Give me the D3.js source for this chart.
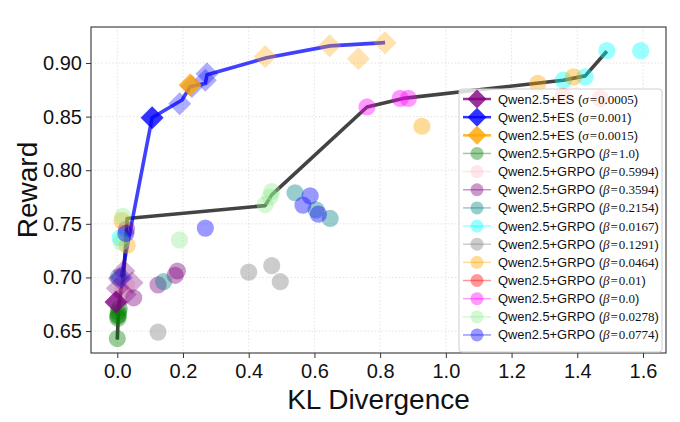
<!DOCTYPE html>
<html>
<head>
<meta charset="utf-8">
<script src="https://cdn.jsdelivr.net/npm/d3@7"></script>
<style>
body { margin: 0; background: #fff; }
svg text { font-family: "Liberation Sans", Arial, sans-serif; fill: #111; }
</style>
</head>
<body>
<div id="chart"></div>
<script>
// ---- data ----
// ES runs (diamonds). first point of each ES list is the highlighted (opaque) one
const es0005X = [-0.004, 0.000, 0.024, 0.045, 0.006, 0.020];
const es0005Y = [0.677, 0.690, 0.684, 0.695, 0.699, 0.706];
const es001X = [0.106, 0.012, 0.190, 0.227, 0.268, 0.273];
const es001Y = [0.849, 0.700, 0.862, 0.878, 0.884, 0.890];
const es0015X = [0.222, 0.450, 0.646, 0.734, 0.815];
const es0015Y = [0.8795, 0.906, 0.916, 0.904, 0.919];

// GRPO runs (circles), one pair per beta
const g10X = [0.000, 0.002, 0.004, 0.003, 0.006, 0.001];
const g10Y = [0.643, 0.662, 0.665, 0.668, 0.671, 0.664];
const g5994X = [0.015, 0.028];
const g5994Y = [0.687, 0.693];
const g3594X = [0.050, 0.124, 0.176, 0.183, 0.028];
const g3594Y = [0.681, 0.693, 0.702, 0.706, 0.745];
const g2154X = [0.003, 0.141, 0.541, 0.605, 0.648];
const g2154Y = [0.700, 0.696, 0.779, 0.763, 0.755];
const g0167X = [0.009, 1.358, 1.424, 1.490, 1.593];
const g0167Y = [0.737, 0.884, 0.887, 0.9115, 0.9115];
const g1291X = [0.124, 0.400, 0.470, 0.496];
const g1291Y = [0.649, 0.705, 0.711, 0.696];
const g0464X = [0.030, 0.014, 0.927, 1.280, 1.388];
const g0464Y = [0.730, 0.753, 0.841, 0.881, 0.887];
const g001X = [1.357, 1.470];
const g001Y = [0.869, 0.867];
const g00X = [0.760, 0.861, 0.886];
const g00Y = [0.859, 0.867, 0.867];
const g0278X = [0.012, 0.017, 0.189, 0.450, 0.465, 0.470];
const g0278Y = [0.733, 0.757, 0.735, 0.768, 0.775, 0.780];
const g0774X = [0.026, 0.268, 0.565, 0.587, 0.612];
const g0774Y = [0.741, 0.746, 0.7675, 0.776, 0.759];

// front lines
const esFrontX = [0.012, 0.106, 0.197, 0.222, 0.268, 0.273, 0.455, 0.648, 0.815];
const esFrontY = [0.700, 0.849, 0.8655, 0.878, 0.881, 0.889, 0.905, 0.916, 0.919];
const grpoFrontX = [0.000, 0.004, 0.020, 0.030, 0.450, 0.470, 0.760, 0.870, 1.357, 1.424, 1.490];
const grpoFrontY = [0.642, 0.672, 0.705, 0.755, 0.767, 0.777, 0.859, 0.867, 0.884, 0.888, 0.911];

const xTicks = [0.0, 0.2, 0.4, 0.6, 0.8, 1.0, 1.2, 1.4, 1.6];
const yTicks = [0.65, 0.70, 0.75, 0.80, 0.85, 0.90];

const esNames = ["0.0005", "0.001", "0.0015"];
const grpoNames = ["1.0", "0.5994", "0.3594", "0.2154", "0.0167", "0.1291", "0.0464", "0.01", "0.0", "0.0278", "0.0774"];

// ---- series table ----
const esSeries = [
    { name: esNames[0], xs: es0005X, ys: es0005Y, color: "#800080" },
    { name: esNames[1], xs: es001X, ys: es001Y, color: "#0000ff" },
    { name: esNames[2], xs: es0015X, ys: es0015Y, color: "#ffa500" }
];
const grpoColors = ["#008000", "#ffc0cb", "#800080", "#008080", "#00ffff", "#808080",
    "#ffa500", "#ff0000", "#ff00ff", "#90ee90", "#0000ff"];
const grpoData = [[g10X, g10Y], [g5994X, g5994Y], [g3594X, g3594Y], [g2154X, g2154Y],
    [g0167X, g0167Y], [g1291X, g1291Y], [g0464X, g0464Y], [g001X, g001Y],
    [g00X, g00Y], [g0278X, g0278Y], [g0774X, g0774Y]];
const grpoSeries = grpoNames.map((n, i) => ({ name: n, xs: grpoData[i][0], ys: grpoData[i][1], color: grpoColors[i] }));

const W = 680, H = 422;
const margin = { top: 27, right: 14, bottom: 69, left: 91 };

const svg = d3.select("#chart").append("svg")
    .attr("width", W).attr("height", H);

const x = d3.scaleLinear().domain([-0.08, 1.67]).range([margin.left, W - margin.right]);
const y = d3.scaleLinear().domain([0.6295, 0.9336]).range([H - margin.bottom, margin.top]);

// grid
svg.append("g").selectAll("line").data(xTicks).join("line")
    .attr("x1", d => x(d)).attr("x2", d => x(d))
    .attr("y1", margin.top).attr("y2", H - margin.bottom)
    .attr("stroke", "#dcdcdc").attr("stroke-width", 0.8).attr("stroke-dasharray", "1.5,2");
svg.append("g").selectAll("line").data(yTicks).join("line")
    .attr("x1", margin.left).attr("x2", W - margin.right)
    .attr("y1", d => y(d)).attr("y2", d => y(d))
    .attr("stroke", "#dcdcdc").attr("stroke-width", 0.8).attr("stroke-dasharray", "1.5,2");

// front lines (under the markers)
const line = d3.line().x(d => x(d[0])).y(d => y(d[1]));
svg.append("path")
    .datum(grpoFrontX.map((v, i) => [v, grpoFrontY[i]]))
    .attr("d", line).attr("fill", "none")
    .attr("stroke", "#222").attr("stroke-opacity", 0.85)
    .attr("stroke-width", 3.6).attr("stroke-linejoin", "round");
svg.append("path")
    .datum(esFrontX.map((v, i) => [v, esFrontY[i]]))
    .attr("d", line).attr("fill", "none")
    .attr("stroke", "#0000ff").attr("stroke-opacity", 0.75)
    .attr("stroke-width", 3.6).attr("stroke-linejoin", "round");

// GRPO circles
grpoSeries.forEach(s => {
    svg.append("g").selectAll("circle").data(s.xs.map((v, i) => [v, s.ys[i]])).join("circle")
        .attr("cx", d => x(d[0])).attr("cy", d => y(d[1]))
        .attr("r", 8.6)
        .attr("fill", s.color).attr("fill-opacity", 0.4);
});

// ES diamonds
const diamond = h => `M0,${-h}L${h},0L0,${h}L${-h},0Z`;
esSeries.forEach(s => {
    svg.append("g").selectAll("path").data(s.xs.map((v, i) => [v, s.ys[i], i])).join("path")
        .attr("transform", d => `translate(${x(d[0])},${y(d[1])})`)
        .attr("d", diamond(11.5))
        .attr("fill", s.color).attr("fill-opacity", d => d[2] === 0 ? 0.8 : 0.32);
});

// axes frame
svg.append("rect")
    .attr("x", margin.left).attr("y", margin.top)
    .attr("width", W - margin.left - margin.right)
    .attr("height", H - margin.top - margin.bottom)
    .attr("fill", "none").attr("stroke", "#333").attr("stroke-width", 1.1);

const xAxis = svg.append("g")
    .attr("transform", `translate(0,${H - margin.bottom})`)
    .call(d3.axisBottom(x).tickValues(xTicks).tickFormat(d3.format(".1f")).tickSizeInner(5).tickSizeOuter(0).tickPadding(6));
const yAxis = svg.append("g")
    .attr("transform", `translate(${margin.left},0)`)
    .call(d3.axisLeft(y).tickValues(yTicks).tickFormat(d3.format(".2f")).tickSizeInner(5).tickSizeOuter(0).tickPadding(4));
[xAxis, yAxis].forEach(a => {
    a.select(".domain").remove();
    a.selectAll(".tick line").attr("stroke", "#333").attr("stroke-width", 1);
    a.selectAll(".tick text").attr("font-size", 20).attr("fill", "#111")
        .style("font-family", "'Liberation Sans', Arial, sans-serif");
});

// axis labels
svg.append("text")
    .attr("x", (margin.left + W - margin.right) / 2).attr("y", 409)
    .attr("text-anchor", "middle").attr("font-size", 28)
    .text("KL Divergence");
svg.append("text")
    .attr("transform", `translate(37,${(margin.top + H - margin.bottom) / 2}) rotate(-90)`)
    .attr("text-anchor", "middle").attr("font-size", 28)
    .text("Reward");

// legend
const leg = svg.append("g").attr("transform", "translate(459,89)");
leg.append("rect").attr("width", 203).attr("height", 263).attr("rx", 3)
    .attr("fill", "#fff").attr("fill-opacity", 0.8)
    .attr("stroke", "#cfcfcf").attr("stroke-width", 1);

const rowH = 18.15;
const entries = esSeries.map(s => ({ kind: "es", method: "Qwen2.5+ES (", sym: "σ", val: s.name, color: s.color }))
    .concat(grpoSeries.map(s => ({ kind: "grpo", method: "Qwen2.5+GRPO (", sym: "β", val: s.name, color: s.color })));

const serif = "'Liberation Serif', 'DejaVu Serif', serif";
entries.forEach((e, i) => {
    const g = leg.append("g").attr("transform", `translate(0,${10 + i * rowH})`);
    g.append("line").attr("x1", 4).attr("x2", 32).attr("y1", 0).attr("y2", 0)
        .attr("stroke", e.color)
        .attr("stroke-opacity", e.kind === "es" ? 0.8 : 0.4)
        .attr("stroke-width", e.kind === "es" ? 2.5 : 1.5);
    if (e.kind === "es") {
        g.append("path").attr("transform", "translate(18,0)").attr("d", diamond(9.5))
            .attr("fill", e.color).attr("fill-opacity", 0.8);
    } else {
        g.append("circle").attr("cx", 18).attr("cy", 0).attr("r", 6.5)
            .attr("fill", e.color).attr("fill-opacity", 0.4);
    }
    const t = g.append("text").attr("x", 39).attr("y", 4.5).attr("font-size", 12.9);
    t.append("tspan").text(e.method);
    t.append("tspan").style("font-family", serif)
        .style("font-style", "italic").attr("font-size", 13).text(e.sym);
    t.append("tspan").style("font-family", serif)
        .attr("font-size", 13).attr("dx", 1).text("=");
    t.append("tspan").style("font-family", serif)
        .attr("font-size", 13).attr("dx", 1).text(e.val);
    t.append("tspan").text(")");
});
</script>
</body>
</html>
